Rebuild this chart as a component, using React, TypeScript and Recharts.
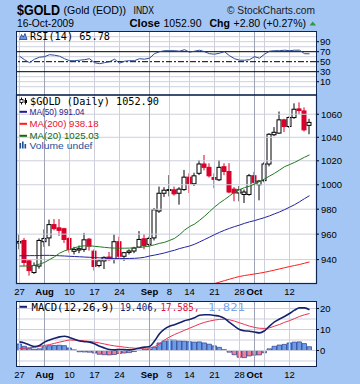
import React from 'react';
import { ComposedChart, Bar, Line, XAxis, YAxis, ReferenceLine, Cell } from 'recharts';

// trading days shown on the chart
const days = [
  'Jul 27', 'Jul 28', 'Jul 29', 'Jul 30', 'Jul 31',
  'Aug 3', 'Aug 4', 'Aug 5', 'Aug 6', 'Aug 7',
  'Aug 10', 'Aug 11', 'Aug 12', 'Aug 13', 'Aug 14',
  'Aug 17', 'Aug 18', 'Aug 19', 'Aug 20', 'Aug 21',
  'Aug 24', 'Aug 25', 'Aug 26', 'Aug 27', 'Aug 28', 'Aug 31',
  'Sep 1', 'Sep 2', 'Sep 3', 'Sep 4',
  'Sep 8', 'Sep 9', 'Sep 10', 'Sep 11',
  'Sep 14', 'Sep 15', 'Sep 16', 'Sep 17', 'Sep 18',
  'Sep 21', 'Sep 22', 'Sep 23', 'Sep 24', 'Sep 25',
  'Sep 28', 'Sep 29', 'Sep 30',
  'Oct 1', 'Oct 2',
  'Oct 5', 'Oct 6', 'Oct 7', 'Oct 8', 'Oct 9',
  'Oct 12', 'Oct 13', 'Oct 14', 'Oct 15', 'Oct 16',
];

const open = [
  953.0, 955.0, 939.0, 930.0, 935.0, 954.0, 957.0, 967.6, 965.0, 964.3,
  956.6, 946.5, 947.5, 948.0, 956.0, 946.6, 935.4, 939.0, 942.0, 940.3,
  954.0, 942.6, 945.6, 946.7, 949.8, 956.3, 951.9, 957.0, 978.5, 993.0,
  995.3, 995.8, 993.0, 996.0, 1006.3, 1000.8, 1009.5, 1017.3, 1014.5, 1006.0,
  1004.1, 1015.0, 1011.0, 996.4, 993.2, 992.0, 992.0, 1007.5, 1000.0, 1003.4,
  1017.3, 1042.2, 1043.6, 1055.1, 1049.3, 1057.1, 1064.7, 1062.9, 1050.3,
];
const high = [
  959.7, 957.0, 940.0, 937.8, 956.6, 963.7, 971.6, 972.0, 972.0, 965.0,
  957.4, 950.0, 951.0, 961.0, 957.0, 948.0, 940.0, 942.5, 946.0, 959.7,
  958.0, 946.0, 948.0, 950.0, 962.4, 960.0, 958.0, 981.0, 998.5, 998.0,
  1008.0, 998.5, 998.0, 1012.3, 1009.5, 1010.0, 1020.7, 1024.9, 1017.9, 1009.5,
  1020.7, 1017.9, 1018.0, 998.0, 999.0, 996.0, 1009.0, 1010.8, 1004.0, 1019.0,
  1043.5, 1048.8, 1062.4, 1056.0, 1058.0, 1069.6, 1070.5, 1066.0, 1056.0,
];
const low = [
  948.0, 935.0, 927.6, 929.0, 933.0, 950.0, 950.5, 963.0, 958.6, 953.0,
  945.4, 944.0, 945.0, 946.0, 947.0, 931.5, 934.0, 932.7, 939.0, 937.0,
  941.0, 939.0, 944.0, 945.0, 949.0, 948.0, 950.0, 955.0, 977.0, 990.0,
  990.4, 991.0, 983.7, 995.0, 993.2, 999.0, 1008.0, 1012.0, 1006.0, 997.2,
  1003.0, 1008.0, 993.0, 986.4, 986.4, 985.0, 991.0, 1001.0, 987.2, 1002.0,
  1015.3, 1041.0, 1043.0, 1044.5, 1048.0, 1056.0, 1060.0, 1045.0, 1042.6,
];
const close = [
  954.2, 937.8, 931.5, 935.4, 955.0, 956.6, 967.6, 964.4, 963.0, 955.8,
  948.0, 948.0, 948.5, 955.5, 950.5, 934.7, 939.0, 941.7, 940.0, 954.0,
  942.6, 945.4, 946.7, 949.0, 955.8, 951.0, 956.6, 979.5, 993.0, 995.5,
  996.0, 992.5, 996.4, 1006.3, 1000.8, 1007.4, 1017.3, 1014.5, 1007.4, 1004.5,
  1014.5, 1011.0, 994.0, 993.2, 995.8, 994.0, 1007.5, 1002.0, 1003.0, 1017.3,
  1042.6, 1044.3, 1055.1, 1049.3, 1057.2, 1064.4, 1063.3, 1046.4, 1052.9,
];

const ma20 = [
  935.0, 935.0, 935.1, 935.5, 936.5, 937.8, 940.0, 942.2, 945.0, 946.8,
  948.0, 949.2, 950.3, 950.8, 950.8, 950.4, 950.0, 949.6, 949.2, 949.0,
  948.9, 948.9, 949.0, 949.2, 949.5, 950.0, 950.6, 951.6, 952.7, 953.5,
  955.0, 956.6, 959.5, 963.2, 966.0, 968.0, 971.0, 974.3, 978.0, 981.7,
  985.0, 987.8, 990.8, 994.0, 996.0, 997.6, 998.8, 1000.5, 1002.6, 1004.8,
  1007.2, 1009.5, 1012.2, 1015.0, 1016.8, 1018.6, 1020.8, 1023.0, 1025.0,
];
const ma50 = [
  943.0, 943.0, 943.1, 943.1, 943.2, 943.3, 943.3, 943.2, 943.0, 942.8,
  942.6, 942.4, 942.2, 942.0, 941.8, 941.6, 941.4, 941.2, 941.0, 940.9,
  940.8, 940.8, 940.9, 941.0, 941.3, 941.8, 942.8, 943.5, 944.3, 945.2,
  946.3, 947.3, 948.6, 949.6, 950.6, 952.0, 953.8, 955.7, 957.6, 959.6,
  961.4, 963.1, 964.6, 966.0, 967.2, 968.6, 969.8, 970.8, 972.0, 973.2,
  974.6, 976.2, 977.8, 979.6, 981.6, 983.6, 986.0, 988.6, 991.0,
];
// MA(200) only enters the visible price range in late September
const ma200 = [
  null, null, null, null, null, null, null, null, null, null,
  null, null, null, null, null, null, null, null, null, null,
  null, null, null, null, null, null, null, null, null, null,
  null, null, null, null, null, null, null, null, null, 921.5,
  922.7, 923.8, 924.9, 926.0, 927.0, 927.7, 928.3, 928.9, 929.5, 930.2,
  931.0, 931.9, 932.8, 933.7, 934.6, 935.4, 936.2, 937.2, 938.2,
];

const rsi = [
  61, 54, 48, 55, 59, 60, 64, 63, 61, 56,
  52, 52, 53, 54, 56, 48, 46, 48, 50, 55,
  47, 51, 52, 52, 56, 55, 57, 66, 70, 72,
  72, 72, 71, 74, 69, 71, 73, 70, 66, 65,
  67, 70, 62, 56, 53, 53, 54, 60, 57, 65,
  71, 72, 72, 73, 72, 73, 73, 66, 65.78,
];

const macd = [
  4.1, 3.6, 2.6, 1.9, 2.4, 4.0, 5.0, 5.8, 6.5, 6.8,
  6.2, 5.3, 4.5, 4.2, 4.0, 3.2, 2.0, 1.2, 0.5, 0.3,
  0.5, 0.4, 0.3, 0.6, 1.2, 1.6, 1.9, 4.5, 8.0, 10.2,
  11.5, 12.3, 13.2, 14.2, 14.8, 15.6, 16.8, 17.0, 17.0, 16.7,
  16.3, 15.3, 13.4, 11.6, 10.0, 9.4, 9.2, 8.8, 8.4, 9.4,
  11.6, 13.6, 15.0, 16.2, 17.6, 19.2, 20.3, 20.3, 19.4,
];
const signal = [
  1.0, 1.1, 1.3, 1.5, 1.9, 2.4, 2.8, 3.4, 4.0, 4.5,
  5.0, 4.9, 4.8, 4.6, 4.3, 4.0, 3.6, 3.1, 2.6, 2.2,
  1.9, 1.6, 1.3, 1.1, 1.0, 1.1, 1.2, 1.8, 3.2, 5.0,
  6.4, 7.6, 8.6, 9.6, 10.6, 11.6, 12.6, 13.4, 14.0, 14.5,
  14.8, 14.9, 14.6, 14.0, 13.2, 12.4, 11.6, 11.0, 10.6, 10.5,
  10.8, 11.6, 12.4, 13.4, 14.2, 15.2, 16.2, 17.0, 17.6,
];
const hist = [
  3.1, 2.0, 1.0, 0.6, 0.8, 1.8, 2.3, 2.4, 2.5, 2.3,
  1.2, 0.3, -0.6, -0.7, -0.8, -1.2, -1.8, -2.0, -2.1, -1.9,
  -1.4, -1.2, -1.0, -0.5, 0.2, 0.5, 0.7, 1.6, 3.6, 4.6,
  5.2, 5.0, 4.6, 4.5, 4.2, 4.0, 4.1, 3.6, 3.0, 2.2,
  1.5, 0.4, -0.8, -2.0, -3.2, -3.4, -2.6, -2.2, -2.1, -1.1,
  0.8, 2.0, 2.6, 2.9, 3.6, 4.0, 4.1, 3.3, 1.8,
];

const tickDays = ['Jul 27', 'Aug 3', 'Aug 10', 'Aug 17', 'Aug 24', 'Sep 1', 'Sep 8', 'Sep 14', 'Sep 21', 'Sep 28', 'Oct 1', 'Oct 5', 'Oct 12'];
const tickLabels = ['27', 'Aug', '10', '17', '24', 'Sep', '8', '14', '21', '28', 'Oct', '', '12'];
const monthDays = ['Aug 3', 'Sep 1', 'Oct 1'];

const priceTicks = [940, 960, 980, 1000, 1020, 1040, 1060];
const rsiTicks = [10, 30, 50, 70, 90];
const rsiGrid = [0, 10, 20, 40, 60, 80, 90, 100];
const macdTicks = [0, 10, 20];
const macdGrid = [-5, 0, 5, 10, 15, 20];

const rows = days.map((day, i) => ({
  i,
  day,
  o: open[i],
  h: high[i],
  l: low[i],
  c: close[i],
  range: [low[i], high[i]],
  ma20: ma20[i],
  ma50: ma50[i],
  ma200: ma200[i],
  rsi: rsi[i],
  macd: macd[i],
  signal: signal[i],
  hist: hist[i],
}));

const tickIdx = tickDays.map((d) => days.indexOf(d));
const monthIdx = monthDays.map((d) => days.indexOf(d));

const X_DOMAIN: [number, number] = [-0.7, 59.3];
const FONT = '"Liberation Sans", Arial, sans-serif';
const MONO = '"DejaVu Sans Mono", monospace';
const GRID = '#cdcfdc';
const GRID_DARK = '#9ea2b4';
const BORDER = '#0e2552';
const UP = '#000000';
const DOWN = '#d9002b';

const axisTick = { fontSize: 9.5, fill: '#000', fontFamily: FONT };

function renderDayTick(props: any) {
  const { x, y, payload } = props;
  const k = tickIdx.indexOf(payload.value);
  const bold = monthIdx.includes(payload.value);
  return (
    <text x={x} y={y} dy="0.71em" textAnchor="middle" fontSize={9.5} fontFamily={FONT}
      fontWeight={bold ? 'bold' : 'normal'} fill="#000">
      {k >= 0 ? tickLabels[k] : ''}
    </text>
  );
}

function Candle(props: any) {
  const { x, y, width, height, payload } = props;
  if (x == null || y == null || !payload) return null;
  const cx = x + width / 2;
  const top = Math.min(y, y + height);
  const bot = Math.max(y, y + height);
  const lh = Math.log(payload.h);
  const ll = Math.log(payload.l);
  const span = lh - ll || 1;
  const py = (v: number) => top + ((lh - Math.log(v)) / span) * (bot - top);
  const up = payload.c >= payload.o;
  const color = up ? UP : DOWN;
  const bt = py(Math.max(payload.o, payload.c));
  const bb = py(Math.min(payload.o, payload.c));
  return (
    <g>
      <line x1={cx} x2={cx} y1={top} y2={bot} stroke={color} strokeWidth={1} />
      <rect x={cx - 2} y={bt} width={4} height={Math.max(bb - bt, 0.8)}
        fill={up ? '#fff' : color} stroke={color} strokeWidth={1} />
    </g>
  );
}

const vLines = (prefix: string) =>
  tickIdx.map((i) => (
    <ReferenceLine key={prefix + i} x={i} stroke={monthIdx.includes(i) ? GRID_DARK : GRID} strokeWidth={1} />
  ));

export default function App() {
  return (
    <div style={{ position: 'absolute', left: 0, top: 0, width: 360, height: 384, background: '#a4c6f4', overflow: 'hidden' }}>
      {/* white plot backgrounds */}
      <div style={{ position: 'absolute', left: 16, top: 32, width: 300, height: 63, background: '#fff' }} />
      <div style={{ position: 'absolute', left: 16, top: 95, width: 300, height: 188, background: '#fff' }} />
      <div style={{ position: 'absolute', left: 16, top: 301, width: 300, height: 66, background: '#fff' }} />

      {/* RSI panel */}
      <div style={{ position: 'absolute', left: 0, top: 32, width: 360, height: 63 }}>
        <ComposedChart width={360} height={63} data={rows} margin={{ top: 0, right: 0, bottom: 0, left: 16 }}>
          <XAxis type="number" dataKey="i" domain={X_DOMAIN} allowDataOverflow hide />
          <YAxis orientation="right" domain={[-16.6, 109.4]} allowDataOverflow ticks={rsiTicks} interval={0}
            width={44} axisLine={false} tickLine={{ stroke: '#000' }} tickSize={3} tickMargin={1} tick={axisTick} />
          {rsiGrid.map((v) => <ReferenceLine key={'rg' + v} y={v} stroke={GRID} />)}
          {vLines('rv')}
          <ReferenceLine y={70} stroke="#000" />
          <ReferenceLine y={30} stroke="#000" />
          <ReferenceLine y={50} stroke="#000" strokeDasharray="6 2 2 2" />
          <Line dataKey="rsi" stroke="#2a4a94" strokeWidth={1} dot={false} activeDot={false} isAnimationActive={false} />
        </ComposedChart>
      </div>

      {/* price panel */}
      <div style={{ position: 'absolute', left: 0, top: 95, width: 360, height: 206 }}>
        <ComposedChart width={360} height={206} data={rows} margin={{ top: 0, right: 0, bottom: 0, left: 16 }}>
          <XAxis type="number" dataKey="i" domain={X_DOMAIN} allowDataOverflow ticks={tickIdx} interval={0}
            tick={renderDayTick} tickLine={false} axisLine={false} tickSize={3} tickMargin={2} height={18} />
          <YAxis orientation="right" scale="log" domain={[922, 1077]} allowDataOverflow ticks={priceTicks} interval={0}
            width={44} axisLine={false} tickLine={{ stroke: '#000' }} tickSize={3} tickMargin={2} tick={axisTick} />
          {priceTicks.map((v) => <ReferenceLine key={'pg' + v} y={v} stroke={GRID} />)}
          {vLines('pv')}
          <Bar dataKey="range" barSize={4} shape={Candle} isAnimationActive={false} />
          <Line dataKey="ma200" stroke="#ff1a1a" strokeWidth={1} dot={false} activeDot={false} isAnimationActive={false} />
          <Line dataKey="ma50" stroke="#2323a0" strokeWidth={1} dot={false} activeDot={false} isAnimationActive={false} />
          <Line dataKey="ma20" stroke="#1f7a1f" strokeWidth={1} dot={false} activeDot={false} isAnimationActive={false} />
        </ComposedChart>
      </div>

      {/* MACD panel */}
      <div style={{ position: 'absolute', left: 0, top: 301, width: 360, height: 84 }}>
        <ComposedChart width={360} height={84} data={rows} margin={{ top: 0, right: 0, bottom: 0, left: 16 }}>
          <XAxis type="number" dataKey="i" domain={X_DOMAIN} allowDataOverflow ticks={tickIdx} interval={0}
            tick={renderDayTick} tickLine={false} axisLine={false} tickSize={2} tickMargin={2} height={18} />
          <YAxis orientation="right" domain={[-7.86, 23.57]} allowDataOverflow ticks={macdTicks} interval={0}
            width={44} axisLine={false} tickLine={{ stroke: '#000' }} tickSize={3} tickMargin={1} tick={axisTick} />
          {macdGrid.map((v) => <ReferenceLine key={'mg' + v} y={v} stroke={GRID} />)}
          {vLines('mv')}
          <Bar dataKey="hist" barSize={5} stroke="#2a3f8f" strokeWidth={0.7} isAnimationActive={false}>
            {rows.map((r) => (
              <Cell key={'c' + r.i} fill={r.hist >= 0 ? '#6c9be8' : '#f07e96'} />
            ))}
          </Bar>
          <Line dataKey="signal" type="monotone" stroke="#ea3050" strokeWidth={1} dot={false} activeDot={false} isAnimationActive={false} />
          <Line dataKey="macd" type="monotone" stroke="#14226e" strokeWidth={1.6} dot={false} activeDot={false} isAnimationActive={false} />
        </ComposedChart>
      </div>

      {/* titles, legends and panel borders */}
      <svg width={360} height={384} style={{ position: 'absolute', left: 0, top: 0, pointerEvents: 'none' }}>
        <g fontFamily={FONT} fill="#000">
          <text x={17} y={15} fontSize={15} fontWeight="bold" textLength={43} lengthAdjust="spacingAndGlyphs">$GOLD</text>
          <text x={63.5} y={14} fontSize={11} textLength={62.5} lengthAdjust="spacingAndGlyphs">(Gold (EOD))</text>
          <text x={133.5} y={14} fontSize={11} textLength={20.5} lengthAdjust="spacingAndGlyphs">INDX</text>
          <text x={227} y={14} fontSize={11} fill="#1a1a1a" textLength={88} lengthAdjust="spacingAndGlyphs">© StockCharts.com</text>
          <text x={17} y={26.5} fontSize={10.5} textLength={57} lengthAdjust="spacingAndGlyphs">16-Oct-2009</text>
          <text x={129.5} y={26.5} fontSize={11} fontWeight="bold" textLength={30.5} lengthAdjust="spacingAndGlyphs">Close</text>
          <text x={163.5} y={26.5} fontSize={11} textLength={38} lengthAdjust="spacingAndGlyphs">1052.90</text>
          <text x={209.5} y={26.5} fontSize={11} fontWeight="bold" textLength={20.5} lengthAdjust="spacingAndGlyphs">Chg</text>
          <text x={233.5} y={26.5} fontSize={11} textLength={72.5} lengthAdjust="spacingAndGlyphs">+2.80 (+0.27%)</text>
        </g>
        <polygon points="309.5,25.5 316,25.5 312.75,21.5" fill="#2e9a3a" />

        {/* RSI legend */}
        <path d="M19.5 39.5 L21.5 34.5 L23.2 37.2 L25 33.5 L27 39.5 Z" fill="#6f98e0" stroke="#1c3f94" strokeWidth={0.8} />
        <text x={30} y={39.5} fontSize={10} fontFamily={MONO} fill="#000" textLength={80} lengthAdjust="spacingAndGlyphs">RSI(14) 65.78</text>

        {/* price legend */}
        <line x1={21.5} x2={21.5} y1={97.5} y2={104.5} stroke="#000" />
        <rect x={20} y={99.5} width={3} height={3} fill="#fff" stroke="#000" strokeWidth={0.8} />
        <line x1={25.5} x2={25.5} y1={98} y2={104.5} stroke="#000" />
        <rect x={24.5} y={100} width={2.5} height={3} fill="#000" />
        <text x={30} y={104.5} fontSize={10} fontFamily={MONO} fill="#000" textLength={129} lengthAdjust="spacingAndGlyphs">$GOLD (Daily) 1052.90</text>
        <line x1={19.5} x2={27} y1={111.8} y2={111.8} stroke="#1c1c8c" strokeWidth={2} />
        <text x={29.5} y={115} fontSize={8.8} fontFamily={FONT} fill="#1c1c8c" textLength={55} lengthAdjust="spacingAndGlyphs">MA(50) 991.04</text>
        <line x1={19.5} x2={27} y1={123.8} y2={123.8} stroke="#ff1a1a" strokeWidth={2} />
        <text x={29.5} y={127.2} fontSize={8.8} fontFamily={FONT} fill="#e8112d" textLength={69} lengthAdjust="spacingAndGlyphs">MA(200) 938.18</text>
        <line x1={19.5} x2={27} y1={135.8} y2={135.8} stroke="#136813" strokeWidth={2} />
        <text x={29.5} y={139} fontSize={8.8} fontFamily={FONT} fill="#136813" textLength={69.5} lengthAdjust="spacingAndGlyphs">MA(20) 1025.03</text>
        <rect x={19.5} y={143} width={1.6} height={5.5} fill="#1f4e99" />
        <rect x={22} y={141.5} width={1.6} height={7} fill="#1f4e99" />
        <rect x={24.5} y={144} width={1.6} height={4.5} fill="#1f4e99" />
        <text x={29.5} y={148.5} fontSize={8.8} fontFamily={FONT} fill="#1f4e99" textLength={63} lengthAdjust="spacingAndGlyphs">Volume undef</text>

        {/* MACD legend */}
        <line x1={19.5} x2={27} y1={306.8} y2={306.8} stroke="#14226e" strokeWidth={2} />
        <g fontSize={10} fontFamily={MONO}>
          <text x={31.5} y={310.5} fill="#000" textLength={83} lengthAdjust="spacingAndGlyphs">MACD(12,26,9)</text>
          <text x={120} y={310.5} fill="#14226e" textLength={38} lengthAdjust="spacingAndGlyphs">19.406,</text>
          <text x={160.5} y={310.5} fill="#e8103a" textLength={39} lengthAdjust="spacingAndGlyphs">17.585,</text>
          <text x={208} y={310.5} fill="#78a6f0" textLength={37} lengthAdjust="spacingAndGlyphs">1.821</text>
        </g>

        {/* panel borders */}
        <rect x={16.5} y={31.5} width={300} height={63.5} fill="none" stroke={BORDER} strokeWidth={1} />
        <rect x={16.5} y={95} width={300} height={188.5} fill="none" stroke={BORDER} strokeWidth={1.2} />
        <rect x={16.5} y={301.5} width={300} height={65} fill="none" stroke={BORDER} strokeWidth={1} />
      </svg>
    </div>
  );
}
